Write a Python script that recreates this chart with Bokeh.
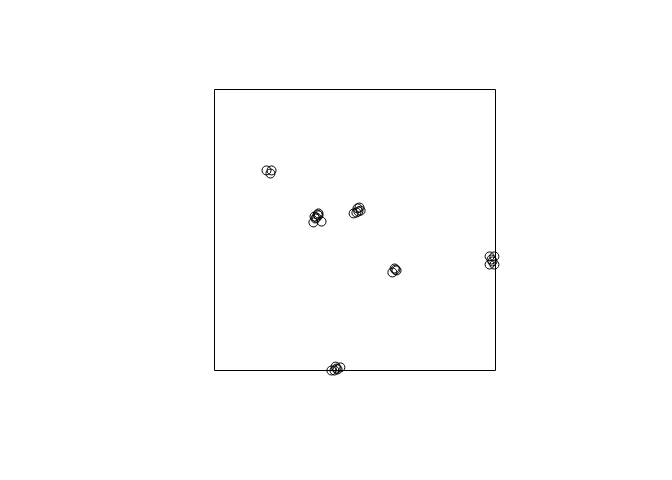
from bokeh.plotting import figure
from bokeh.models import Range1d, BoxAnnotation
from bokeh.embed import file_html
from bokeh.resources import INLINE

x_vals = [0.185, 0.203, 0.199,
          0.356, 0.367, 0.370, 0.363, 0.352, 0.381, 0.359, 0.370,
          0.495, 0.509, 0.516, 0.512, 0.505, 0.520,
          0.633, 0.644, 0.648, 0.641,
          0.979, 0.996, 0.979, 0.996, 0.989, 0.986,
          0.416, 0.431, 0.448, 0.438, 0.427, 0.434]
y_vals = [0.712, 0.712, 0.701,
          0.548, 0.555, 0.552, 0.544, 0.527, 0.530, 0.541, 0.559,
          0.559, 0.577, 0.580, 0.566, 0.562, 0.569,
          0.349, 0.359, 0.356, 0.363,
          0.406, 0.406, 0.377, 0.377, 0.388, 0.395,
          0.000, 0.014, 0.011, 0.004, 0.000, 0.007]

box_lo, box_hi = 0.0, 1.0
pad = 10 / 281  # room so circles at the edge are not clipped

p = figure(width=672, height=480, output_backend="svg", toolbar_location=None,
           x_range=Range1d(box_lo - pad, box_hi + pad),
           y_range=Range1d(box_lo - pad, box_hi + pad),
           min_border_left=204, min_border_right=167,
           min_border_top=79, min_border_bottom=100)
p.axis.visible = False
p.grid.visible = False
p.outline_line_color = None
p.background_fill_color = "white"
p.border_fill_color = "white"

p.add_layout(BoxAnnotation(left=box_lo, right=box_hi, bottom=box_lo, top=box_hi,
                           fill_color=None, fill_alpha=0, line_color="black",
                           line_width=1, line_alpha=1.0))

p.scatter(x_vals, y_vals, marker="circle", size=9, fill_color=None,
          line_color="black", line_width=1)

open("out.html", "w").write(file_html(p, INLINE))
